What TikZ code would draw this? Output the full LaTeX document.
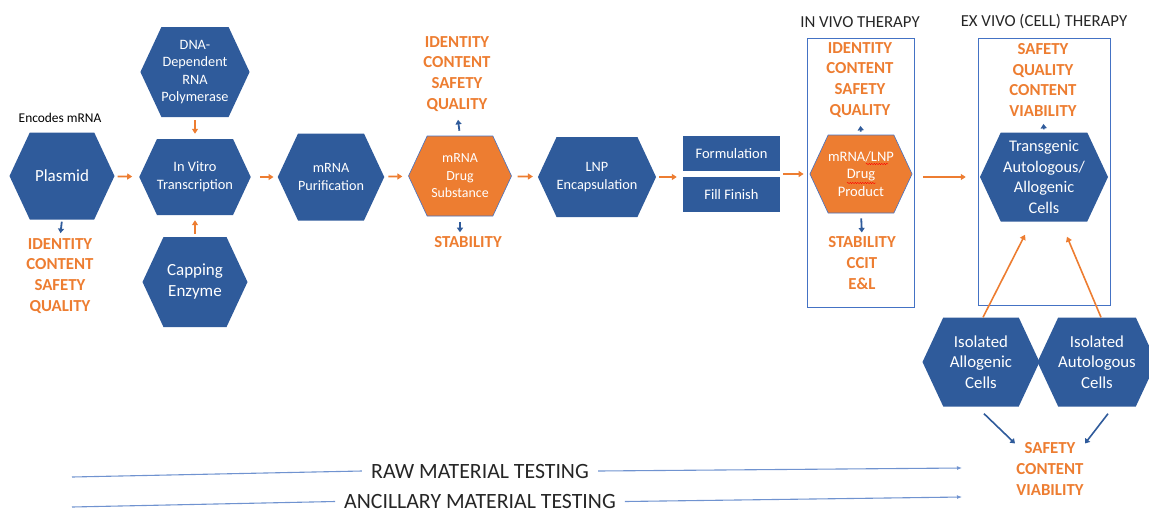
\documentclass[tikz,border=0pt]{standalone}
\usepackage{fontspec}
\setmainfont{Carlito}
\usetikzlibrary{shapes.symbols,arrows.meta,decorations.pathmorphing,calc}
\definecolor{hexblue}{HTML}{2F5B9B}
\definecolor{testorange}{HTML}{ED7D31}
\definecolor{framebl}{HTML}{4472C4}
\definecolor{linebl}{HTML}{7093D0}
\definecolor{titlegray}{HTML}{262626}
\newcommand\setfs[2]{\fontsize{#1}{#2}\selectfont}

\begin{document}
\begin{tikzpicture}[x=1pt,y=-1pt,
  hexa/.style={signal, signal to=west and east, signal pointer angle=130,
    fill=hexblue, text=white, align=center, inner sep=0pt},
  orangehex/.style={hexa, fill=testorange, draw=framebl, line width=0.6pt},
  stepbox/.style={rectangle, fill=hexblue, text=white, minimum width=97pt,
    minimum height=35pt, inner sep=0pt, font=\setfs{14.5}{17}},
  tests/.style={text=testorange, font=\bfseries\setfs{16.8}{20.8}, align=center, inner sep=0pt},
  frame/.style={rectangle, draw=framebl, line width=0.8pt, inner sep=0pt},
  heading/.style={text=titlegray, font=\setfs{16.8}{18}, inner sep=0pt},
  oarr/.style={draw=testorange, line width=1.8pt, -{Triangle[length=5pt,width=6pt]}},
  barr/.style={draw=hexblue, line width=1.8pt, -{Triangle[length=4.5pt,width=6pt]}},
  testline/.style={draw=linebl, line width=1.1pt},
  squiggle/.style={draw=red, line width=0.4pt, decorate,
    decoration={snake, amplitude=0.7pt, segment length=2.5pt}},
  testlabel/.style={text=titlegray, font=\setfs{21.8}{24}, inner xsep=9pt, inner ysep=0pt}
]
\useasboundingbox (0,0) rectangle (1149,512);

% ---------- mRNA production chain ----------
\node[inner sep=0pt, font=\setfs{13.4}{15}] (enc) at (60,118) {Encodes mRNA};
\node[hexa, minimum width=105pt, minimum height=87pt, font=\setfs{17}{20}] (plasmid) at (62,176) {Plasmid};
\node[hexa, minimum width=104pt, minimum height=90pt, font=\setfs{14.3}{17.5}] (dna) at (195,72) {DNA-\\Dependent\\RNA\\Polymerase};
\node[hexa, minimum width=106pt, minimum height=76pt, font=\setfs{14.4}{18}] (ivt) at (195,177) {In Vitro\\Transcription};
\node[hexa, minimum width=105pt, minimum height=90pt, font=\setfs{17}{21}] (cap) at (195,282) {Capping\\Enzyme};
\node[hexa, minimum width=104pt, minimum height=87pt, font=\setfs{14.2}{18}] (purif) at (331,177) {mRNA\\Purification};
\node[orangehex, minimum width=103pt, minimum height=80pt, font=\setfs{13.9}{17.5}] (ds) at (460,176) {mRNA\\Drug\\Substance};
\node[hexa, minimum width=118pt, minimum height=80pt, font=\setfs{14.3}{18}] (lnp) at (597,177) {LNP\\Encapsulation};
\node[stepbox] (form) at (731.5,153.5) {Formulation};
\node[stepbox] (fill) at (731.5,194.5) {Fill Finish};

% test panels along the chain
\node[tests] (tplas) at (60,276) {IDENTITY\\CONTENT\\SAFETY\\QUALITY};
\node[tests] (tds) at (457,74) {IDENTITY\\CONTENT\\SAFETY\\QUALITY};
\node[tests] (tstab) at (468,242) {STABILITY};

\draw[oarr, shorten <=3pt, shorten >=7pt] (plasmid) -- (ivt);
\draw[oarr, shorten <=3pt, shorten >=5pt] (dna) -- (ivt);
\draw[oarr, shorten <=3pt, shorten >=5pt] (cap) -- (ivt);
\draw[oarr, shorten <=9pt, shorten >=4pt] (ivt.east) -- (purif.west);
\draw[oarr, shorten <=4pt, shorten >=6pt] (purif) -- (ds);
\draw[oarr, shorten <=6pt, shorten >=5pt] (ds) -- (lnp);
\draw[oarr, shorten <=3pt, shorten >=6pt] (lnp.east) -- (form.west |- lnp.east);
\draw[barr, shorten <=2pt, shorten >=5pt] (plasmid.south) -- (tplas.north);
\draw[barr, shorten <=5pt, shorten >=8pt] (ds.north) -- (tds.south);
\draw[barr, shorten <=6pt, shorten >=4pt] (ds.south) -- (tstab.north -| ds.south);

% ---------- in vivo therapy ----------
\node[heading] (vivohead) at (860,22) {IN VIVO THERAPY};
\node[frame, minimum width=107pt, minimum height=269pt] (vivobox) at (860.5,172.5) {};
\node[orangehex, minimum width=101pt, minimum height=78pt, font=\setfs{14.5}{17.5}] (dp) at (861,174) {mRNA/LNP\\Drug\\Product};
\draw[squiggle] ($(dp)+(5,-10)$) -- ($(dp)+(27,-10)$);
\draw[squiggle] ($(dp)+(-14,9)$) -- ($(dp)+(15,9)$);
\node[tests] (tvivo) at (860,80) {IDENTITY\\CONTENT\\SAFETY\\QUALITY};
\node[tests] (tvivo2) at (862,263) {STABILITY\\CCIT\\E\&L};
\draw[barr, shorten <=3pt, shorten >=8pt] (dp.north) -- (tvivo.south);
\draw[barr, shorten <=5pt, shorten >=4pt] (dp.south) -- (tvivo2.north);
\draw[oarr, shorten <=3pt, shorten >=6pt] (dp.west -| form.east) -- (dp.west);

% ---------- ex vivo (cell) therapy ----------
\node[heading] (exhead) at (1044,22) {EX VIVO (CELL) THERAPY};
\node[frame, minimum width=132pt, minimum height=267pt] (exbox) at (1044,171.5) {};
\node[hexa, minimum width=128pt, minimum height=89pt, font=\setfs{16.3}{20.7}] (trans) at (1044,177) {Transgenic\\Autologous/\\Allogenic\\Cells};
\node[tests] (tex) at (1043,80) {SAFETY\\QUALITY\\CONTENT\\VIABILITY};
\draw[barr, shorten <=3pt, shorten >=7pt] (trans.north) -- (tex.south);
\draw[oarr, shorten <=11pt, shorten >=14pt] (dp.east |- trans.west) -- (trans.west);

\node[hexa, minimum width=117pt, minimum height=89pt, font=\setfs{16.8}{20.5}] (allo) at (981,362) {Isolated\\Allogenic\\Cells};
\node[hexa, minimum width=104pt, minimum height=89pt, font=\setfs{16.8}{20.5}] (auto) at (1097,362) {Isolated\\Autologous\\Cells};
\draw[oarr, line width=1.6pt] ([xshift=2pt]allo.north) -- ([xshift=-19pt,yshift=-13pt]trans.south);
\draw[oarr, line width=1.6pt] ([xshift=4pt]auto.north) -- ([xshift=23pt,yshift=-15pt]trans.south);

\node[tests] (tcells) at (1050,469) {SAFETY\\CONTENT\\VIABILITY};
\draw[barr, line width=1.6pt] ([xshift=3pt,yshift=-7pt]allo.south) -- ([xshift=-35pt,yshift=-1pt]tcells.north);
\draw[barr, line width=1.6pt] ([xshift=11pt,yshift=-7pt]auto.south) -- ([xshift=35pt,yshift=-1pt]tcells.north);

% ---------- material testing ----------
\node[testlabel] (raw) at (480,471) {RAW MATERIAL TESTING};
\node[testlabel] (anc) at (480,501.5) {ANCILLARY MATERIAL TESTING};
\coordinate (rawL) at (72,477);
\coordinate (rawR) at (962,468);
\coordinate (ancL) at (72,507);
\coordinate (ancR) at (962,497);
\draw[testline] (rawL) -- (raw.west);
\draw[testline, -{Latex[length=5pt,width=4pt]}] (raw.east) -- (rawR);
\draw[testline] (ancL) -- (anc.west);
\draw[testline, -{Latex[length=5pt,width=4pt]}] (anc.east) -- (ancR);
\end{tikzpicture}
\end{document}
